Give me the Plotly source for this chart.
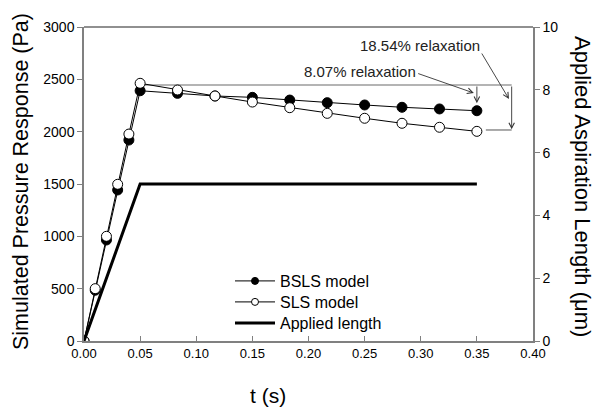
import plotly.graph_objects as go

t = [0.0, 0.01, 0.02, 0.03, 0.04, 0.05, 0.0833, 0.1167, 0.15, 0.1833, 0.2167, 0.25, 0.2833, 0.3167, 0.35]
bsls = [0, 485, 965, 1443, 1920, 2391, 2366, 2341, 2328, 2302, 2277, 2255, 2233, 2217, 2200]
sls = [0, 500, 1000, 1497, 1977, 2462, 2398, 2341, 2283, 2229, 2175, 2128, 2080, 2042, 2003]
t_len = [0.0, 0.05, 0.35]
applied_len = [0, 5, 5]

FONT = "Arial, Liberation Sans, sans-serif"

fig = go.Figure()
fig.add_trace(go.Scatter(x=t, y=bsls, name="BSLS model", mode="lines+markers", showlegend=False,
                         line=dict(color="black", width=1),
                         marker=dict(symbol="circle", size=10, color="black",
                                     line=dict(color="black", width=1))))
fig.add_trace(go.Scatter(x=t, y=sls, name="SLS model", mode="lines+markers", showlegend=False,
                         line=dict(color="black", width=1),
                         marker=dict(symbol="circle", size=10, color="white",
                                     line=dict(color="black", width=1))))
fig.add_trace(go.Scatter(x=t_len, y=applied_len, name="Applied length", mode="lines", showlegend=False,
                         line=dict(color="black", width=3), yaxis="y2"))
# legend entries (smaller symbols, as in the reference legend), one legend per row
fig.add_trace(go.Scatter(x=[None], y=[None], name="BSLS model", mode="lines+markers",
                         legend="legend",
                         line=dict(color="#333333", width=1.2),
                         marker=dict(symbol="circle", size=7, color="black",
                                     line=dict(color="black", width=1))))
fig.add_trace(go.Scatter(x=[None], y=[None], name="SLS model", mode="lines+markers",
                         legend="legend2",
                         line=dict(color="#333333", width=1.2),
                         marker=dict(symbol="circle", size=7, color="white",
                                     line=dict(color="black", width=1))))
fig.add_trace(go.Scatter(x=[None], y=[None], name="Applied length", mode="lines",
                         legend="legend3",
                         line=dict(color="black", width=3)))

# reference lines
peak_ref = 2446
fig.add_shape(type="line", x0=0.05, x1=0.381, y0=peak_ref, y1=peak_ref,
              xref="x", yref="y", line=dict(color="#b4b4b4", width=2), layer="below")
fig.add_shape(type="line", x0=0.358, x1=0.381, y0=2016, y1=2016,
              xref="x", yref="y", line=dict(color="#555555", width=1))
# top border
fig.add_shape(type="line", x0=0, x1=1, y0=1, y1=1, xref="paper", yref="paper",
              line=dict(color="#222222", width=1.2))

arrow_kw = dict(showarrow=True, arrowhead=5, arrowsize=1.2, arrowwidth=0.9,
                arrowcolor="#333333", axref="x", ayref="y", xref="x", yref="y", text="")
fig.add_annotation(x=0.35, y=2272, ax=0.35, ay=peak_ref, **arrow_kw)
fig.add_annotation(x=0.381, y=2022, ax=0.381, ay=peak_ref, **arrow_kw)
fig.add_annotation(x=0.3473, y=2369, ax=0.2964, ay=2560, **arrow_kw)
fig.add_annotation(x=0.3786, y=2312, ax=0.3536, ay=2761, **arrow_kw)

fig.add_annotation(x=0.299, y=2825, text="18.54% relaxation", showarrow=False,
                   xref="x", yref="y", font=dict(size=15, color="#222222", family=FONT))
fig.add_annotation(x=0.2455, y=2575, text="8.07% relaxation", showarrow=False,
                   xref="x", yref="y", font=dict(size=15, color="#222222", family=FONT))

# axis titles (pixel positions, converted to paper coords below)
fig.add_annotation(x=268, y=395, text="t (s)", showarrow=False,
                   font=dict(size=21, color="black", family=FONT))
fig.add_annotation(x=21, y=182, text="Simulated Pressure Response (Pa)", showarrow=False,
                   textangle=-90, font=dict(size=21.5, color="black", family=FONT))
fig.add_annotation(x=583, y=186, text="Applied Aspiration Length (μm)", showarrow=False,
                   textangle=90, font=dict(size=22, color="black", family=FONT))

L, R, T, B = 84, 67, 27, 72
W, H = 600, 413
pw, ph = W - L - R, H - T - B
for a in fig.layout.annotations[-3:]:
    a.x = (a.x - L) / pw
    a.y = (H - B - a.y) / ph
    a.xref = "paper"
    a.yref = "paper"
    a.xanchor = "center"
    a.yanchor = "middle"

def leg(ypix):
    return dict(x=(230 - L) / pw, y=(H - B - ypix) / ph, xanchor="left", yanchor="middle",
                font=dict(size=16, family=FONT, color="black"),
                bgcolor="rgba(0,0,0,0)", itemwidth=40)

fig.update_layout(
    width=W, height=H,
    margin=dict(l=L, r=R, t=T, b=B),
    plot_bgcolor="white", paper_bgcolor="white",
    font=dict(family=FONT, color="black"),
    showlegend=True,
    legend=leg(281), legend2=leg(302), legend3=leg(323),
    xaxis=dict(range=[0, 0.40], dtick=0.05, tickformat=".2f", showgrid=False, zeroline=False,
               showline=True, linecolor="#808080", linewidth=1.5,
               ticks="inside", ticklen=5, tickcolor="#808080",
               tickfont=dict(size=13, family=FONT, color="black")),
    yaxis=dict(range=[0, 3000], dtick=500, showgrid=False, zeroline=False,
               showline=True, linecolor="#808080", linewidth=1.5,
               ticks="outside", ticklen=5, tickcolor="#808080",
               tickfont=dict(size=14, family=FONT, color="black")),
    yaxis2=dict(range=[0, 10], dtick=2, overlaying="y", side="right", showgrid=False,
                zeroline=False, showline=True, linecolor="#808080", linewidth=1.5,
                ticks="outside", ticklen=5, tickcolor="#808080",
                tickfont=dict(size=14, family=FONT, color="black")),
)

fig.write_html("out.html", config={"displayModeBar": False},
               post_script="document.body.style.margin='0';")
